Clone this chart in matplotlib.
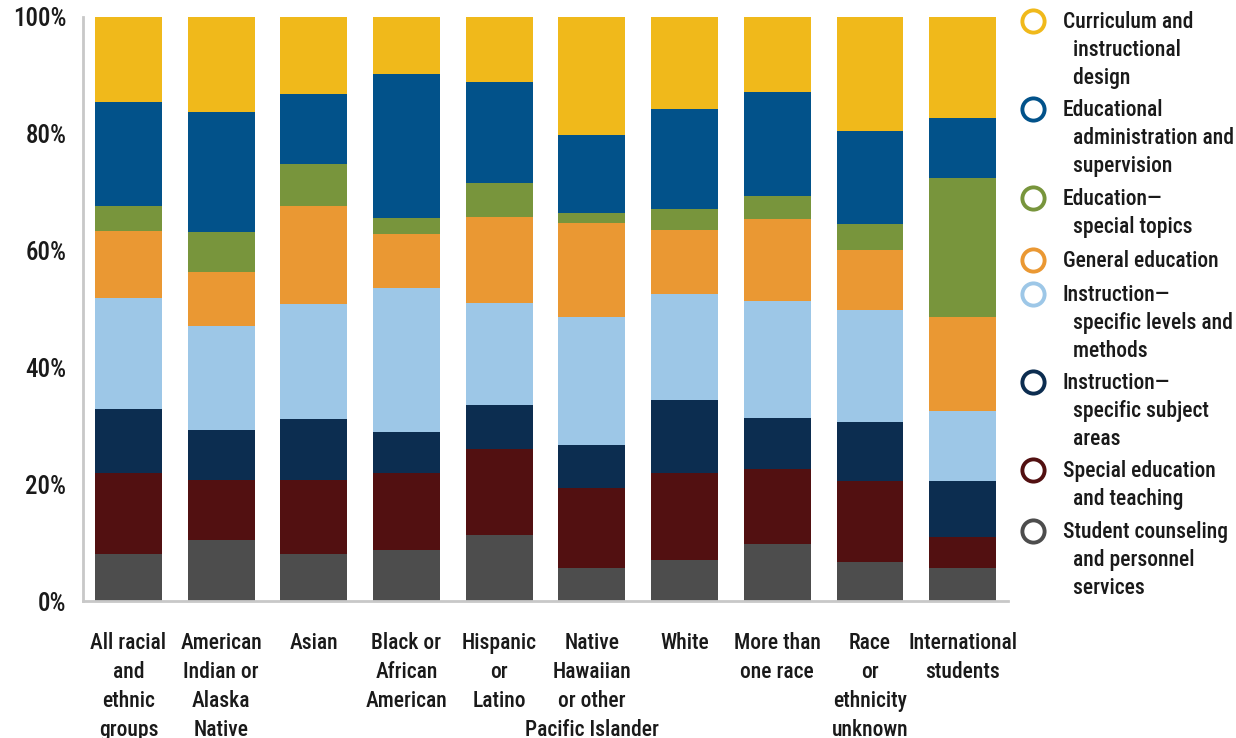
import matplotlib
matplotlib.use("Agg")
import matplotlib.pyplot as plt
from matplotlib import font_manager
from matplotlib.lines import Line2D
import numpy as np

# --- data -----------------------------------------------------------------
groups = [
    "All racial\nand\nethnic\ngroups",
    "American\nIndian or\nAlaska\nNative",
    "Asian",
    "Black or\nAfrican\nAmerican",
    "Hispanic\nor\nLatino",
    "Native\nHawaiian\nor other\nPacific Islander",
    "White",
    "More than\none race",
    "Race\nor\nethnicity\nunknown",
    "International\nstudents",
]

# shares (%) per field, bottom of the stack first
student_counseling = [8.0, 10.4, 8.0, 8.8, 11.3, 5.7, 7.1, 9.8, 6.6, 5.6]
special_education = [13.9, 10.3, 12.7, 13.1, 14.7, 13.6, 14.8, 12.8, 13.9, 5.3]
instr_subject_areas = [11.0, 8.5, 10.4, 7.1, 7.6, 7.5, 12.6, 8.8, 10.2, 9.7]
instr_levels_methods = [19.0, 17.9, 19.7, 24.6, 17.5, 21.8, 18.0, 19.9, 19.1, 12.0]
general_education = [11.4, 9.2, 16.8, 9.2, 14.6, 16.1, 11.0, 14.1, 10.3, 16.1]
special_topics = [4.3, 6.8, 7.2, 2.8, 5.8, 1.7, 3.6, 3.9, 4.4, 23.7]
admin_supervision = [17.8, 20.6, 12.0, 24.6, 17.4, 13.4, 17.1, 17.8, 16.0, 10.3]
curriculum_design = [14.6, 16.3, 13.2, 9.8, 11.1, 20.2, 15.8, 12.9, 19.5, 17.3]

legend_labels = [
    "Curriculum and\n  instructional\n  design",
    "Educational\n  administration and\n  supervision",
    "Education\u2014\n  special topics",
    "General education",
    "Instruction\u2014\n  specific levels and\n  methods",
    "Instruction\u2014\n  specific subject\n  areas",
    "Special education\n  and teaching",
    "Student counseling\n  and personnel\n  services",
]
y_ticks = [0, 20, 40, 60, 80, 100]

# --- styling --------------------------------------------------------------
colors = {
    "curriculum": "#F0B91B",
    "admin": "#02528A",
    "topics": "#78953C",
    "general": "#EA9833",
    "levels": "#9DC7E7",
    "subject": "#0C2D50",
    "special": "#521011",
    "counseling": "#4D4D4D",
}

installed = {f.name for f in font_manager.fontManager.ttflist}
family = []
for name in ["Liberation Sans Narrow", "Roboto Condensed", "Roboto", "DejaVu Sans"]:
    if name in installed:
        family.append(name)
plt.rcParams["font.family"] = family or ["DejaVu Sans"]
plt.rcParams["font.stretch"] = "condensed"
plt.rcParams["font.weight"] = "medium"
text_color = "#1A1A1A"
fs = 15.5

stack = [
    (student_counseling, colors["counseling"]),
    (special_education, colors["special"]),
    (instr_subject_areas, colors["subject"]),
    (instr_levels_methods, colors["levels"]),
    (general_education, colors["general"]),
    (special_topics, colors["topics"]),
    (admin_supervision, colors["admin"]),
    (curriculum_design, colors["curriculum"]),
]

fig = plt.figure(figsize=(12.36, 7.38), dpi=100)
ax = fig.add_axes([0.0672, 0.1856, 0.7483, 0.7914])

x = np.arange(len(groups))
vals = np.array([s for s, _ in stack], dtype=float)
totals = vals.sum(axis=0)
bottom = np.zeros(len(groups))
for row, (_, col) in zip(vals, stack):
    share = row / totals * 100
    ax.bar(x, share, bottom=bottom, width=0.72, color=col, linewidth=0)
    bottom += share

ax.set_xlim(-0.49, 9.49)
ax.set_ylim(0, 100)
ax.set_yticks(y_ticks)
ax.set_yticklabels([f"{t}%" for t in y_ticks], fontsize=18, color=text_color)
ax.set_xticks(x)
ax.set_xticklabels(groups, fontsize=fs, color=text_color, linespacing=1.42,
                   va="top", ha="center")
ax.tick_params(axis="both", length=0)
ax.tick_params(axis="y", pad=12)
ax.tick_params(axis="x", pad=22)
for side in ["top", "right"]:
    ax.spines[side].set_visible(False)
for side in ["left", "bottom"]:
    ax.spines[side].set_color("#C8C8C8")
    ax.spines[side].set_linewidth(2)

# legend drawn as hollow circles with wrapped labels
legend_colors = [colors[k] for k in
                 ["curriculum", "admin", "topics", "general",
                  "levels", "subject", "special", "counseling"]]
legend_y = [21, 109, 198, 260, 294, 382, 470, 531]
W, H = 1236, 738
for lab, col, py in zip(legend_labels, legend_colors, legend_y):
    fig.add_artist(Line2D([1033 / W], [1 - py / H], marker="o", markersize=16,
                          markerfacecolor="none", markeredgecolor=col,
                          markeredgewidth=2.8, transform=fig.transFigure))
    fig.text(1063 / W, 1 - (py - 10) / H, lab, fontsize=fs, color=text_color,
             va="top", ha="left", linespacing=1.34)

fig.savefig("out.png", dpi=100)
